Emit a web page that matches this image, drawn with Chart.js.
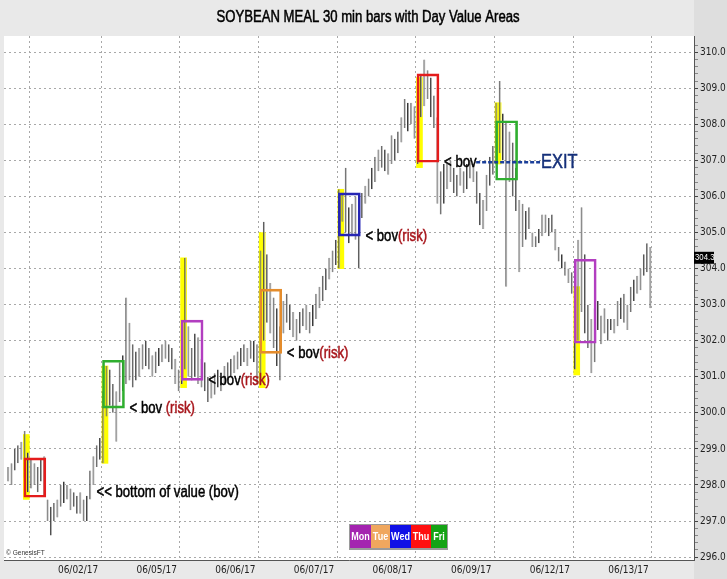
<!DOCTYPE html>
<html>
<head>
<meta charset="utf-8">
<title>Soybean meal 30 min bars</title>
<script src="https://cdn.jsdelivr.net/npm/chart.js@4.4.1/dist/chart.umd.min.js"></script>
<style>
  html, body { margin: 0; padding: 0; background: #e9e9e9; }
  canvas { display: block; }
</style>
</head>
<body>
<canvas id="js--chart--meal" width="727" height="579"></canvas>
<script>
// 30 min bars, 24 per trading day (17 overnight + 7 day session)
const dayLabels = ["06/02/17", "06/05/17", "06/06/17", "06/07/17", "06/08/17", "06/09/17", "06/12/17", "06/13/17"];

const barLow = [
  298.1, 298.0, 298.4, 298.6, 298.7, 298.2, 297.8, 297.9, 298.0, 297.8, 298.1, 297.7,
  297.0, 296.6, 297.0, 297.1, 297.4, 297.5, 297.6, 297.3, 297.4, 297.2, 297.2, 297.0,
  297.0, 297.6, 298.0, 298.5, 298.7, 298.6, 299.9, 300.2, 300.0, 299.2, 300.3, 300.6,
  300.8, 300.9, 300.7, 300.9, 301.0, 301.2, 301.3, 301.2, 301.0, 301.1, 301.3, 301.4,
  301.5, 301.4, 301.2, 300.8, 300.6, 300.8, 301.2, 301.0, 300.9, 301.0, 300.8, 300.7,
  300.6, 300.3, 300.4, 300.5, 300.7, 300.6, 300.8, 300.9, 301.0, 301.1, 301.2, 301.3,
  301.4, 301.3, 301.5, 301.4, 300.8, 300.8, 302.0, 302.5, 302.2, 301.8, 301.3, 300.9,
  302.2, 302.5, 302.3, 302.1, 302.0, 302.2, 302.4, 302.3, 302.2, 302.4, 302.6, 302.9,
  303.1, 303.4, 303.7, 303.9, 304.1, 304.0, 305.3, 305.0, 304.7, 304.9, 304.8, 304.0,
  305.4, 305.8, 306.0, 306.2, 306.4, 306.7, 306.8, 306.7, 306.6, 306.9, 307.0, 307.2,
  307.5, 307.9, 307.8, 308.0, 307.6, 306.9, 308.2, 308.5, 308.7, 308.2, 307.9, 305.8,
  305.5, 305.8, 306.2, 306.4, 306.1, 306.0, 306.3, 306.1, 306.2, 306.5, 306.4, 305.8,
  305.2, 305.1, 305.6, 306.3, 306.6, 306.9, 307.2, 307.0, 303.5, 306.4, 306.0, 305.6,
  303.9, 304.6, 304.8, 305.1, 304.6, 304.6, 304.7, 304.9, 305.0, 304.9, 305.0, 304.5,
  304.2, 304.0, 303.8, 303.6, 303.3, 301.2, 302.0, 302.8, 302.2, 301.8, 301.1, 301.4,
  302.3, 301.9, 302.2, 302.0, 302.3, 302.2, 302.4, 302.6, 302.5, 302.3, 302.8, 303.1,
  303.3, 303.4, 303.8, 303.9, 302.9
];
const barHigh = [
  298.5, 298.6, 299.0, 299.1, 299.2, 299.5, 298.9, 298.7, 298.6, 298.5, 298.7, 298.8,
  297.6, 297.4, 297.5, 297.6, 298.0, 298.1, 298.0, 297.9, 297.8, 297.7, 297.8, 297.6,
  297.7, 298.4, 298.8, 299.1, 299.3, 300.6, 301.3, 301.2, 300.8, 300.6, 301.4, 301.6,
  303.2, 302.5, 301.9, 301.7, 301.8, 301.9, 302.0, 301.8, 301.6, 301.7, 301.8, 301.9,
  302.0, 301.9, 301.8, 301.5, 301.2, 302.5, 304.3, 302.4, 301.8, 302.2, 302.1, 301.5,
  301.4, 301.0, 300.9, 301.1, 301.2, 301.0, 301.3, 301.4, 301.5, 301.6, 301.7, 301.8,
  301.9, 301.8, 302.0, 302.0, 301.9, 304.5, 305.3, 304.4, 303.6, 303.2, 302.9, 302.4,
  303.1, 303.3, 303.0, 302.8, 302.6, 302.8, 302.9, 303.0, 302.8, 303.0, 303.3, 303.5,
  303.8, 304.0, 304.3, 304.5, 304.8, 306.2, 306.1, 306.8, 305.7, 305.8, 306.0, 305.6,
  306.1, 306.3, 306.5, 306.8, 307.1, 307.3, 307.4, 307.3, 307.2, 307.7, 307.6, 307.8,
  308.2, 308.7, 308.6, 308.6, 308.5, 309.0, 309.4, 309.8, 309.5, 309.3, 308.8, 308.2,
  306.7, 306.9, 306.9, 307.0, 306.8, 306.6, 306.8, 306.7, 306.9, 307.0, 306.9, 306.7,
  306.1, 305.9, 306.6, 307.1, 307.4, 308.6, 309.2, 308.3, 308.1, 307.8, 307.5, 306.8,
  305.9, 305.8, 305.6, 305.7, 305.0, 304.9, 305.1, 305.5, 305.5, 305.4, 305.5, 305.1,
  304.6, 304.4, 304.2, 304.0, 303.9, 303.5, 304.8, 305.7, 304.4, 303.0, 302.6, 302.9,
  303.1, 302.7, 302.9, 302.6, 302.6, 302.6, 303.1, 303.2, 303.3, 303.0, 303.5, 303.7,
  303.8, 304.0, 304.4, 304.7, 304.6
];
const lastPrice = 304.3;

// day session value areas (one per day, first one is 06/01)
const vaLow = [297.66, 300.13, 300.9, 301.65, 304.9, 306.95, 306.45, 301.93];
const vaHigh = [298.75, 301.46, 302.57, 303.43, 306.1, 309.4, 308.1, 304.26];
const vaDay = ["Thu", "Fri", "Mon", "Tue", "Wed", "Thu", "Fri", "Mon"];
// opening range highlight
const openLow = [297.6, 298.6, 300.7, 300.7, 304.0, 306.8, 306.9, 301.05];
const openHigh = [299.4, 301.3, 304.3, 305.0, 306.2, 309.3, 308.6, 303.5];

const dayColors = { Mon: "#a424b0", Tue: "#f0a75e", Wed: "#1010e6", Thu: "#ff1010", Fri: "#15a315" };
const boxColors = { Mon: "#b23ec0", Tue: "#e48c2c", Wed: "#2626b4", Thu: "#e41c1c", Fri: "#2fae2f" };

const PER_DAY = 24;
const FIRST_EDGE = 11.5; // end of first day session

function hasFont(name) {
  const c = document.createElement("canvas").getContext("2d");
  c.font = "40px monospace";
  const a = c.measureText("abcdefghijklmn 0123").width;
  c.font = '40px "' + name + '", monospace';
  const b = c.measureText("abcdefghijklmn 0123").width;
  return a !== b;
}
const NARROW = hasFont("Liberation Sans Narrow");
const tickFamily = NARROW ? '"Liberation Sans Narrow", sans-serif' : '"DejaVu Sans Condensed", "Liberation Sans", sans-serif';

// draw condensed text, squeeze Liberation Sans if the narrow cut is missing
function say(ctx, str, x, y, size, color, align, bold, heavy) {
  ctx.save();
  ctx.fillStyle = color;
  ctx.strokeStyle = color;
  ctx.lineWidth = 0.5;
  ctx.textBaseline = "middle";
  ctx.textAlign = "left";
  let w;
  if (NARROW) {
    ctx.font = (bold ? "bold " : "") + size + 'px "Liberation Sans Narrow"';
    w = ctx.measureText(str).width;
    ctx.translate(align === "center" ? x - w / 2 : x, y);
  } else {
    ctx.font = (bold ? "bold " : "") + size + 'px "Liberation Sans"';
    w = ctx.measureText(str).width * 0.82;
    ctx.translate(align === "center" ? x - w / 2 : x, y);
    ctx.scale(0.82, 1);
  }
  ctx.fillText(str, 0, 0);
  if (heavy) ctx.strokeText(str, 0, 0);
  ctx.restore();
  return w;
}

const priceData = barLow.map((lo, i) => ({ x: i, y: [lo, barHigh[i]] }));
const openData = openLow.map((lo, k) => ({ x: 5.5 + PER_DAY * k, y: [lo, openHigh[k]] }));
const boxData = vaLow.map((lo, k) => ({ x: 8.1 + PER_DAY * k, y: [lo, vaHigh[k]] }));

// notes next to the value areas
const notes = [
  { at: 25.4, val: 297.8, parts: [["<< bottom of value (bov)", "#000"]] },
  { at: FIRST_EDGE + 24 * 1, val: vaLow[1], parts: [["< bov ", "#000"], ["(risk)", "#a8161c"]] },
  { at: FIRST_EDGE + 24 * 2, val: vaLow[2], parts: [["< bov", "#000"], ["(risk)", "#a8161c"]] },
  { at: FIRST_EDGE + 24 * 3, val: vaLow[3], parts: [["< bov", "#000"], ["(risk)", "#a8161c"]] },
  { at: FIRST_EDGE + 24 * 4, val: vaLow[4], parts: [["< bov", "#000"], ["(risk)", "#a8161c"]] },
  { at: FIRST_EDGE + 24 * 5, val: vaLow[5], parts: [["< bov", "#000"]] }
];

const decor = {
  id: "decor",
  beforeDraw(chart) {
    const { ctx, chartArea: a, width, height } = chart;
    ctx.save();
    ctx.fillStyle = "#e9e9e9";
    ctx.fillRect(0, 0, width, height);
    ctx.fillStyle = "#dedede";
    ctx.fillRect(a.right, 0, width - a.right, height);
    ctx.fillStyle = "#fff";
    ctx.fillRect(a.left, a.top, a.right - a.left, a.bottom - a.top);
    ctx.restore();
    say(ctx, "SOYBEAN MEAL 30 min bars with Day Value Areas", 368, 18, 16, "#000", "center", false, true);
  },
  afterDatasetsDraw(chart) {
    const { ctx, chartArea: a } = chart;
    const xs = chart.scales.x, ys = chart.scales.y;
    notes.forEach(n => {
      let x = xs.getPixelForValue(n.at) + 5;
      const y = ys.getPixelForValue(n.val);
      n.parts.forEach(p => { x += say(ctx, p[0], x, y, 16, p[1], "left", false, true); });
    });
    // exit line
    const ey = ys.getPixelForValue(vaLow[5]);
    ctx.save();
    ctx.strokeStyle = "#1b3f9a";
    ctx.lineWidth = 2.5;
    ctx.setLineDash([4, 2]);
    ctx.beginPath();
    ctx.moveTo(xs.getPixelForValue(142.8), ey);
    ctx.lineTo(xs.getPixelForValue(162.3), ey);
    ctx.stroke();
    ctx.restore();
    say(ctx, "EXIT", xs.getPixelForValue(162.3) + 1, ey, 20, "#15307a", "left", false, true);

    // weekday key
    const names = ["Mon", "Tue", "Wed", "Thu", "Fri"];
    const cw = [21, 19, 21, 20, 16];
    let lx = 350;
    const ly = 525, lh = 23;
    ctx.save();
    ctx.fillStyle = "#9a9a9a";
    ctx.fillRect(lx - 1, ly - 1, 99, lh + 3);
    ctx.restore();
    names.forEach((d, i) => {
      ctx.fillStyle = dayColors[d];
      ctx.fillRect(lx, ly, cw[i], lh);
      say(ctx, d, lx + cw[i] / 2, ly + lh / 2, 11, "#fff", "center", true);
      lx += cw[i];
    });

    say(ctx, "\u00a9 GenesisFT", a.left + 2, a.bottom - 7, 8, "#333", "left");
  },
  afterDraw(chart) {
    const { ctx, chartArea: a } = chart;
    const y = chart.scales.y.getPixelForValue(lastPrice);
    ctx.fillStyle = "#000";
    ctx.fillRect(a.right, y - 6, 20, 12);
    say(ctx, lastPrice.toFixed(1), a.right + 1, y, 9.5, "#fff", "left");
  }
};

function isEdge(v) {
  const k = (v - FIRST_EDGE) / PER_DAY;
  return Math.abs(k - Math.round(k)) < 0.001;
}

new Chart(document.getElementById("js--chart--meal"), {
  type: "bar",
  data: {
    datasets: [
      {
        label: "value area",
        data: boxData,
        backgroundColor: "rgba(0,0,0,0)",
        borderColor: vaDay.map(d => boxColors[d]),
        borderWidth: 2,
        borderSkipped: false,
        barThickness: 22,
        grouped: false,
        order: 0
      },
      {
        label: "SM 30 min",
        data: priceData,
        backgroundColor: "#9e9e9e",
        borderColor: "#383838",
        borderWidth: { left: 1, right: 0, top: 0, bottom: 0 },
        borderSkipped: false,
        barThickness: 2,
        inflateAmount: 0,
        grouped: false,
        order: 1
      },
      {
        label: "open range",
        data: openData,
        backgroundColor: "#ffff00",
        barThickness: 6,
        grouped: false,
        order: 2
      }
    ]
  },
  options: {
    responsive: false,
    animation: false,
    devicePixelRatio: 1,
    layout: { padding: { top: 36, left: 4, right: 0, bottom: 0 } },
    plugins: { legend: { display: false }, tooltip: { enabled: false } },
    scales: {
      x: {
        type: "linear",
        offset: false,
        min: -1.32,
        max: 209.3,
        afterBuildTicks(scale) {
          const t = [];
          for (let k = 0; k <= 8; k++) t.push({ value: FIRST_EDGE + PER_DAY * k });
          dayLabels.forEach((d, k) => t.push({ value: 21.3 + PER_DAY * k }));
          t.sort((p, q) => p.value - q.value);
          scale.ticks = t;
        },
        afterFit(scale) { scale.height = 19; },
        ticks: {
          autoSkip: false,
          maxRotation: 0,
          padding: 4,
          color: "#222",
          font: { family: tickFamily, size: 10 },
          callback(v) {
            const k = Math.round((v - 21.3) / PER_DAY);
            if (Math.abs(v - (21.3 + PER_DAY * k)) < 0.01 && dayLabels[k]) return dayLabels[k];
            return "";
          }
        },
        grid: {
          drawTicks: false,
          color(c) { return c.tick && isEdge(c.tick.value) ? "#a8a8a8" : "rgba(0,0,0,0)"; }
        },
        border: { color: "#555", width: 1, dash: [2, 3] }
      },
      y: {
        position: "right",
        min: 295.92,
        max: 310.45,
        afterBuildTicks(scale) {
          const t = [];
          for (let v = 296; v <= 310.3; v += 0.2) t.push({ value: Math.round(v * 10) / 10 });
          scale.ticks = t;
        },
        afterFit(scale) { scale.width = 33; },
        ticks: {
          autoSkip: false,
          padding: 2,
          color: "#222",
          font: { family: tickFamily, size: 10 },
          callback(v) { return Math.abs(v - Math.round(v)) < 0.001 ? v.toFixed(1) : ""; }
        },
        grid: {
          tickLength: 4,
          color(c) { return c.tick && Math.abs(c.tick.value - Math.round(c.tick.value)) < 0.001 ? "#a8a8a8" : "rgba(0,0,0,0)"; },
          tickColor(c) { return c.tick && Math.abs(c.tick.value - Math.round(c.tick.value)) < 0.001 ? "#444" : "#888"; }
        },
        border: { color: "#555", width: 1, dash: [2, 3] }
      }
    }
  },
  plugins: [decor]
});
</script>
</body>
</html>
